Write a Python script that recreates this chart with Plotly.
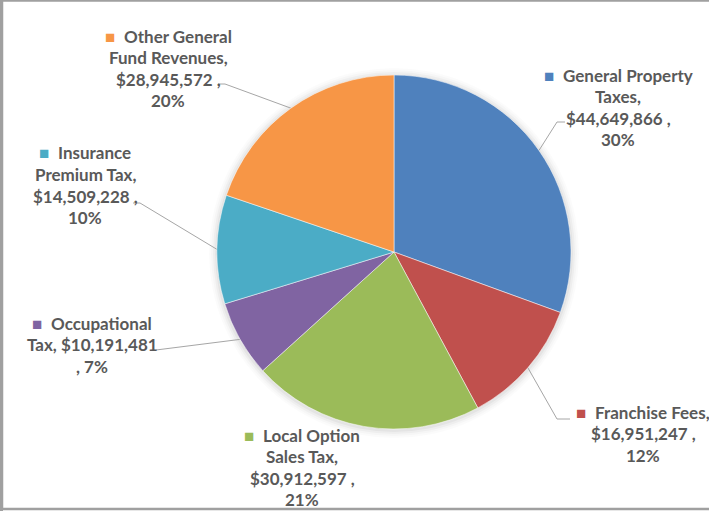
import math
import plotly.graph_objects as go

# ---- data ----
categories = ["General Property Taxes", "Franchise Fees", "Local Option Sales Tax",
              "Occupational Tax", "Insurance Premium Tax", "Other General Fund Revenues"]
values = [44649866, 16951247, 30912597, 10191481, 14509228, 28945572]
percent_labels = ["30%", "12%", "21%", "7%", "10%", "20%"]
colors = ["#4F81BD", "#C0504D", "#9BBB59", "#8064A2", "#4BACC6", "#F79646"]
label_lines = [
    ["General Property", "Taxes,", "${v} ,", "{p}"],
    ["Franchise Fees,", "${v} ,", "{p}"],
    ["Local Option", "Sales Tax,", "${v} ,", "{p}"],
    ["Occupational", "Tax, ${v}", ", {p}"],
    ["Insurance", "Premium Tax,", "${v} ,", "{p}"],
    ["Other General", "Fund Revenues,", "${v} ,", "{p}"],
]

# ---- layout constants (pixels) ----
W, H = 709, 511
CX, CY, R = 394, 252, 177
label_x = [618, 643, 302, 92, 85, 168]
label_top = [75, 412, 435, 323, 153, 36]
LINE_H = 21.5
leader_elbow = [[(557, 122), (565, 122)], [(557, 419), (570, 419)], None,
                [(156, 350)], [(140, 203), (133, 203)], [(225, 84), (218, 84)]]
TEXT_COLOR = "#595959"
LINE_COLOR = "#A6A6A6"
FONT = "Lato"
FSIZE = 17

def px(x):
    return x / W

def py(y):
    return 1 - y / H

fig = go.Figure()
fig.add_trace(go.Pie(
    labels=categories, values=values, sort=False, direction="clockwise", rotation=0,
    marker=dict(colors=colors, line=dict(color="white", width=0.5)),
    textinfo="none", hoverinfo="label+value+percent", showlegend=False,
    domain=dict(x=[px(CX - R), px(CX + R)], y=[py(CY + R), py(CY - R)]),
))

# leader lines: start on slice edge at the slice mid-angle
total = sum(values)
cum = 0
for i, v in enumerate(values):
    mid = (cum + v / 2) / total * 2 * math.pi
    cum += v
    if leader_elbow[i] is None:
        continue
    sx = CX + R * math.sin(mid)
    sy = CY - R * math.cos(mid)
    xs = [sx] + [p[0] for p in leader_elbow[i]]
    ys = [sy] + [p[1] for p in leader_elbow[i]]
    fig.add_trace(go.Scatter(x=xs, y=ys, mode="lines", line=dict(color=LINE_COLOR, width=1),
                             hoverinfo="skip", showlegend=False, xaxis="x", yaxis="y"))

# labels (one annotation per line)
for i in range(len(categories)):
    vs = f"{values[i]:,}"
    lines = [l.format(v=vs, p=percent_labels[i]) for l in label_lines[i]]
    for j, line in enumerate(lines):
        txt = f"<b>{line}</b>"
        if j == 0:
            txt = f"<span style='color:{colors[i]}'>■</span>  " + txt
        fig.add_annotation(
            x=px(label_x[i]), y=py(label_top[i] + j * LINE_H), xref="paper", yref="paper",
            text=txt, showarrow=False, xanchor="center", yanchor="middle", align="center",
            font=dict(family=FONT, size=FSIZE, color=TEXT_COLOR),
        )

# soft shadow around pie + chart border
shapes = []
for k, a in [(8, 0.015), (6, 0.02), (4, 0.03), (2, 0.04)]:
    shapes.append(dict(type="circle", xref="paper", yref="paper", layer="below",
                       x0=px(CX - R - k), x1=px(CX + R + k), y0=py(CY + R + k + 1), y1=py(CY - R - k + 1),
                       fillcolor=f"rgba(0,0,0,{a})", line=dict(width=0)))
shapes.append(dict(type="rect", xref="paper", yref="paper", x0=px(2), x1=px(715), y0=py(509), y1=py(0.5),
                   line=dict(color="#A0A0A0", width=2.5), layer="above"))
shapes.append(dict(type="line", xref="paper", yref="paper", x0=px(1.5), x1=px(1.5), y0=0, y1=1,
                   line=dict(color="#A0A0A0", width=3), layer="above"))

fig.update_layout(
    width=W, height=H, margin=dict(l=0, r=0, t=0, b=0),
    paper_bgcolor="white", plot_bgcolor="rgba(0,0,0,0)",
    xaxis=dict(range=[0, W], visible=False, domain=[0, 1], fixedrange=True),
    yaxis=dict(range=[H, 0], visible=False, domain=[0, 1], fixedrange=True),
    shapes=shapes,
)

fig.write_html("out.html", config={"displayModeBar": False},
               post_script="document.body.style.margin='0';document.body.style.overflow='hidden';")
